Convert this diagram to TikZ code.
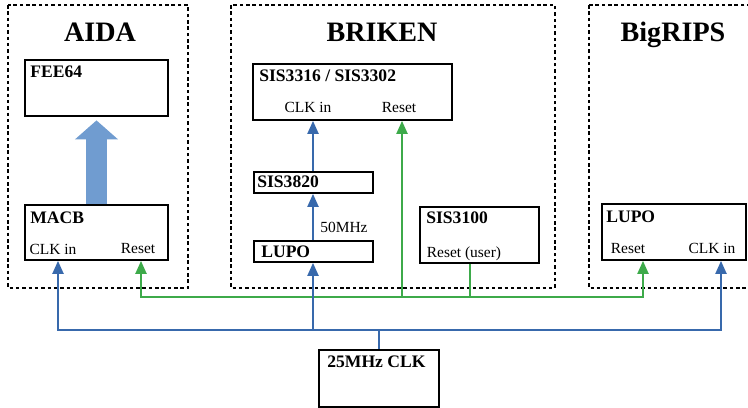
\documentclass[tikz,border=0pt]{standalone}
\usepackage{fontspec}
\setmainfont{Liberation Serif}
\usetikzlibrary{arrows.meta,positioning,calc,fit}

\definecolor{clkblue}{RGB}{56,105,172}
\definecolor{rstgreen}{RGB}{61,170,74}
\definecolor{fatblue}{RGB}{112,156,208}

\begin{document}
\begin{tikzpicture}[x=0.02cm, y=-0.02cm,
    grp/.style={draw, line width=1.1pt, dash pattern=on 2pt off 1.6pt},
    box/.style={draw, line width=1pt, inner sep=0pt},
    ttl/.style={anchor=base, font=\bfseries\fontsize{16}{19}\selectfont, inner sep=0pt},
    lab/.style={anchor=base west, font=\bfseries\fontsize{10}{12}\selectfont, inner sep=0pt},
    port/.style={anchor=base, font=\fontsize{8.8}{10}\selectfont, inner sep=0pt},
    clk/.style={clkblue, line width=1.2pt},
    rst/.style={rstgreen, line width=1.2pt},
    tip/.style={-{Triangle[length=0.26cm, width=0.22cm]}},
    fat/.style={fatblue, line width=0.42cm, -{Triangle[length=0.38cm, width=0.84cm]}}
]
\useasboundingbox (0,0) rectangle (748,408);

% groups
\draw[grp] (8,5) rectangle (188,288);
\draw[grp] (231,5) rectangle (555,288);
\draw[grp] (589,5) rectangle (760,288);
\node[ttl] (aida) at (100,42) {AIDA};
\node[ttl] (briken) at (382,42) {BRIKEN};
\node[ttl] (bigrips) at (673,42) {BigRIPS};

% AIDA
\node[box, fit={(25,60) (168,116)}] (fee) {};
\node[lab] (feelab) at (30,78) {FEE64};
\node[box, fit={(25,205) (168,260)}] (macb) {};
\node[lab] (macblab) at (30,224) {MACB};
\node[port] (macbclk) at (53,255) {CLK in};
\node[port] (macbrst) at (138,254) {Reset};

% BRIKEN
\node[box, fit={(253,64) (452,120)}] (sis3316) {};
\node[lab] (sis3316lab) at (259,82) {SIS3316 / SIS3302};
\node[port] (sisclk) at (308,113) {CLK in};
\node[port] (sisrst) at (399,113) {Reset};
\node[box, fit={(254,172) (373,193)}] (sis3820) {};
\node[lab] (sis3820lab) at (257,188) {SIS3820};
\node[box, fit={(254,241) (373,262)}] (lupob) {};
\node[lab] (lupoblab) at (261,258) {LUPO};
\node[port, anchor=base west] (mhz50) at (320,233) {50MHz};
\node[box, fit={(420,207) (539,263)}] (sis3100) {};
\node[lab] (sis3100lab) at (426,224) {SIS3100};
\node[port] (userrst) at (464,258) {Reset (user)};

% BigRIPS
\node[box, fit={(602,204) (746,260)}] (lupor) {};
\node[lab] (luporlab) at (606,223) {LUPO};
\node[port] (luporst) at (628,254) {Reset};
\node[port] (luporclk) at (712,254) {CLK in};

% clock source
\node[box, fit={(319,350) (439,407)}] (clk25) {};
\node[lab] (clk25lab) at (327,368) {25MHz CLK};

% bus points
\coordinate (rA) at (141,297);
\coordinate (rB) at (402,297);
\coordinate (rC) at (470,297);
\coordinate (rD) at (643,297);
\coordinate (cA) at (58,330);
\coordinate (cB) at (313,330);
\coordinate (cD) at (721,330);

\draw[fat] (macb.north) -- ([yshift=-2]fee.south);

% reset lines
\draw[rst, tip] (rD) -- (rA) -- (rA |- macb.south);
\draw[rst, tip] (rB) -- (rD) -- (rD |- lupor.south);
\draw[rst, tip] (rB) -- (rB |- sis3316.south);
\draw[rst] (sis3100.south -| rC) -- (rC);

% clock lines
\draw[clk] (clk25.north) -- (clk25.north |- cB);
\draw[clk, tip] (cB) -- (cA) -- (cA |- macb.south);
\draw[clk, tip] (cB) -- (cD) -- (cD |- lupor.south);
\draw[clk, tip] (cB) -- (cB |- lupob.south);
\draw[clk, tip] (cB |- lupob.north) -- (cB |- sis3820.south);
\draw[clk, tip] (cB |- sis3820.north) -- (cB |- sis3316.south);
\end{tikzpicture}
\end{document}
